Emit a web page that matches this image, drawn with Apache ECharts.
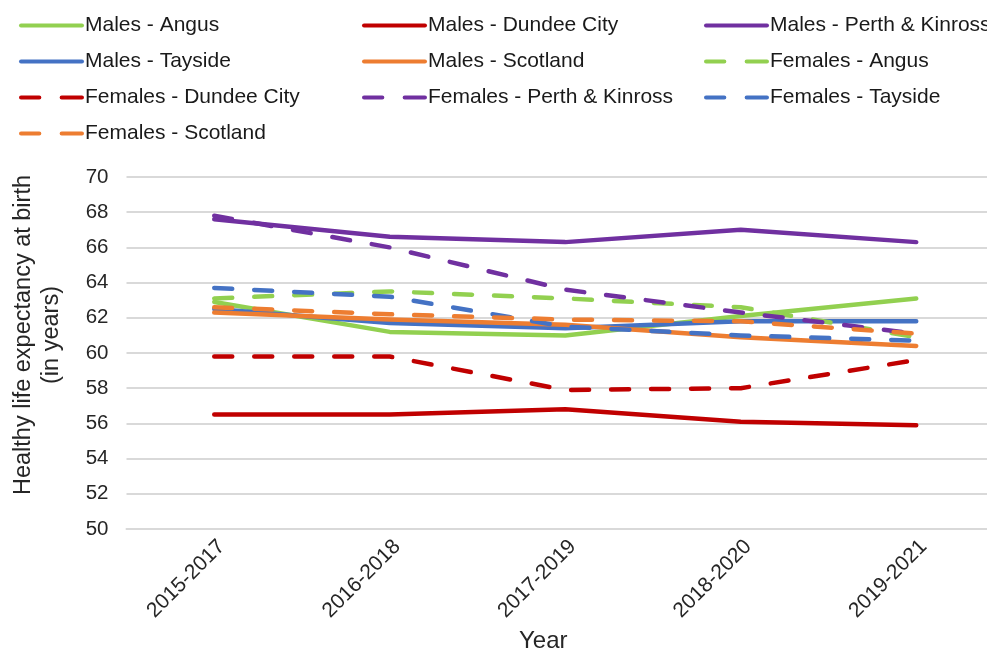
<!DOCTYPE html>
<html>
<head>
<meta charset="utf-8">
<script src="https://cdn.jsdelivr.net/npm/echarts@6/dist/echarts.min.js"></script>
<style>
html,body{margin:0;padding:0;background:#fff;}
#chart{width:987px;height:651px;}
</style>
</head>
<body>
<div id="chart"></div>
<script>
const categories = ['2015-2017', '2016-2018', '2017-2019', '2018-2020', '2019-2021'];
const yTicks = { min: 50, max: 70, interval: 2 };

const malesAngus      = [62.9, 61.2, 61.0, 62.1, 63.1];
const malesDundee     = [56.5, 56.5, 56.8, 56.1, 55.9];
const malesPerth      = [67.6, 66.6, 66.3, 67.0, 66.3];
const malesTayside    = [62.5, 61.7, 61.4, 61.8, 61.8];
const malesScotland   = [62.3, 61.9, 61.6, 60.9, 60.4];
const femalesAngus    = [63.1, 63.5, 63.1, 62.6, 60.9];
const femalesDundee   = [59.8, 59.8, 57.9, 58.0, 59.6];
const femalesPerth    = [67.8, 66.0, 63.6, 62.3, 61.1];
const femalesTayside  = [63.7, 63.2, 61.5, 61.0, 60.7];
const femalesScotland = [62.6, 62.2, 61.9, 61.8, 61.1];

const seriesNames = [
  'Males - Angus', 'Males - Dundee City', 'Males - Perth & Kinross', 'Males - Tayside', 'Males - Scotland',
  'Females - Angus', 'Females - Dundee City', 'Females - Perth & Kinross', 'Females - Tayside', 'Females - Scotland'
];
const seriesData = [malesAngus, malesDundee, malesPerth, malesTayside, malesScotland,
  femalesAngus, femalesDundee, femalesPerth, femalesTayside, femalesScotland];
const colors = ['#92D050', '#C00000', '#7030A0', '#4472C4', '#ED7D31',
  '#92D050', '#C00000', '#7030A0', '#4472C4', '#ED7D31'];

const FONT = '"Liberation Sans", Arial, sans-serif';
const SOLID_ICON = 'path://M2,0H62A2,2,0,0,1,62,4H2A2,2,0,0,1,2,0Z';
const DASH_ICON = 'path://M2,0H20A2,2,0,0,1,20,4H2A2,2,0,0,1,2,0Z M42,0H62A2,2,0,0,1,62,4H42A2,2,0,0,1,42,0Z';

const chart = echarts.init(document.getElementById('chart'), null, { renderer: 'canvas' });

const series = seriesNames.map((name, i) => ({
  name: name,
  type: 'line',
  data: seriesData[i],
  symbol: 'none',
  smooth: false,
  lineStyle: {
    color: colors[i],
    width: 4.5,
    type: i >= 5 ? [18, 22] : 'solid',
    cap: 'round',
    join: 'round'
  },
  itemStyle: { color: colors[i] },
  emphasis: { disabled: true }
}));

function legendCol(left, names) {
  return {
    orient: 'vertical',
    left: left,
    top: 10,
    itemWidth: 65,
    itemHeight: 5,
    itemGap: 15,
    data: names.map(n => ({ name: n, icon: n.indexOf('Females') === 0 ? DASH_ICON : SOLID_ICON })),
    textStyle: { fontFamily: FONT, fontSize: 21, color: '#1a1a1a', lineHeight: 21, padding: [0, 0, 0, -4] },
    selectedMode: false
  };
}

chart.setOption({
  animation: false,
  color: colors,
  legend: [
    legendCol(14, ['Males - Angus', 'Males - Tayside', 'Females - Dundee City', 'Females - Scotland']),
    legendCol(357, ['Males - Dundee City', 'Males - Scotland', 'Females - Perth & Kinross']),
    legendCol(699, ['Males - Perth & Kinross', 'Females - Angus', 'Females - Tayside'])
  ],
  grid: { left: 126.5, right: -17, top: 177, bottom: 122, containLabel: false, outerBoundsMode: 'none' },
  xAxis: {
    type: 'category',
    data: categories,
    boundaryGap: true,
    axisLine: { show: true, lineStyle: { color: '#d9d9d9', width: 2 } },
    axisTick: { show: false },
    axisLabel: { rotate: 45, fontFamily: FONT, fontSize: 21, color: '#262626', margin: 7, verticalAlign: 'top' },
    name: 'Year',
    nameLocation: 'middle',
    nameGap: 92,
    nameTextStyle: { fontFamily: FONT, fontSize: 24, color: '#262626', padding: [0, 44, 0, 0] }
  },
  yAxis: {
    type: 'value',
    min: yTicks.min,
    max: yTicks.max,
    interval: yTicks.interval,
    axisLine: { show: false },
    axisTick: { show: false },
    splitLine: { lineStyle: { color: '#d9d9d9', width: 2 } },
    axisLabel: { fontFamily: FONT, fontSize: 20.5, color: '#262626', margin: 18 },
    name: 'Healthy life expectancy at birth\n(in years)',
    nameLocation: 'middle',
    nameRotate: 90,
    nameGap: 61,
    nameTextStyle: { fontFamily: FONT, fontSize: 23.5, color: '#262626', lineHeight: 28, padding: [0, 0, 0, 36] }
  },
  series: series
});
</script>
</body>
</html>
